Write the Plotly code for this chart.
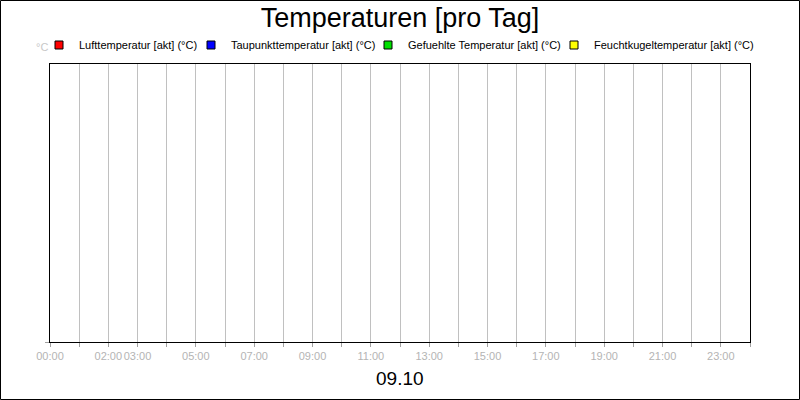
"""
Temperaturen [pro Tag] - empty daily temperature chart.
"""

import plotly.graph_objects as go

# Data (the day has no measurements, so all series are empty)
hours = [0, 1, 2, 3, 4, 5, 6, 7, 8, 9, 10, 11, 12,
         13, 14, 15, 16, 17, 18, 19, 20, 21, 22, 23, 24]
hour_labels = ["00:00", "", "02:00", "03:00", "", "05:00", "", "07:00", "", "09:00",
               "", "11:00", "", "13:00", "", "15:00", "", "17:00", "", "19:00",
               "", "21:00", "", "23:00", ""]
series_names = [
    "Lufttemperatur [akt] (°C)",
    "Taupunkttemperatur [akt] (°C)",
    "Gefuehlte Temperatur [akt] (°C)",
    "Feuchtkugeltemperatur [akt] (°C)",
]
series_colors = ["#ff0000", "#0000ff", "#00e000", "#ffff00"]
series_values = [[None], [None], [None], [None]]
series_times = [[None], [None], [None], [None]]
day_label = "09.10"
unit_label = "°C"

FONT = "Liberation Sans, Arial, sans-serif"
W, H = 800, 400
ML, MR, MT, MB = 50, 50, 64, 58
PW, PH = W - ML - MR, H - MT - MB


def px_x(px):
    return (px - ML) / PW


def px_y(py):
    return (H - MB - py) / PH


fig = go.Figure()

# legend x-positions (pixel where each legend box starts)
legend_left = [39, 191, 368, 554]

for i, name in enumerate(series_names):
    key = "legend" if i == 0 else f"legend{i + 1}"
    fig.add_trace(go.Scatter(
        x=series_times[i],
        y=series_values[i],
        mode="markers",
        name=name,
        legend=key,
        marker=dict(symbol="square", size=8, color=series_colors[i],
                    line=dict(color="black", width=1)),
    ))

legends = {}
for i, lx in enumerate(legend_left):
    key = "legend" if i == 0 else f"legend{i + 1}"
    legends[key] = dict(
        x=px_x(lx), xanchor="left",
        y=px_y(45), yanchor="middle",
        orientation="h",
        bgcolor="rgba(0,0,0,0)",
        font=dict(family=FONT, size=11, color="black"),
    )

fig.update_layout(
    width=W, height=H,
    margin=dict(l=ML, r=MR, t=MT, b=MB, pad=0),
    paper_bgcolor="white",
    plot_bgcolor="white",
    title=dict(text="Temperaturen [pro Tag]", x=0.5, xanchor="center",
               y=1 - 18 / H, yanchor="middle",
               font=dict(family=FONT, size=27, color="black")),
    showlegend=True,
    **legends,
)

fig.update_xaxes(
    range=[0, 24],
    tickvals=hours, ticktext=hour_labels,
    tickangle=0,
    showgrid=True, gridcolor="#c0c0c0", gridwidth=1,
    zeroline=False,
    showline=True, linecolor="black", linewidth=1, mirror=True,
    ticks="outside", ticklen=4, tickcolor="#a0a0a0",
    tickfont=dict(family=FONT, size=11, color="#b4b4b4"),
)
fig.update_yaxes(
    range=[0, 1],
    tickvals=[0], showticklabels=False,
    showgrid=False, zeroline=False,
    showline=True, linecolor="black", linewidth=1, mirror=True,
    ticks="outside", ticklen=4, tickcolor="#a0a0a0",
)

# unit label and day label
fig.add_annotation(text=unit_label, xref="paper", yref="paper",
                   x=px_x(42), y=px_y(47), showarrow=False,
                   xanchor="center", yanchor="middle",
                   font=dict(family=FONT, size=11, color="#c8c8c8"))
fig.add_annotation(text=day_label, xref="paper", yref="paper",
                   x=0.5, y=px_y(378), showarrow=False,
                   xanchor="center", yanchor="middle",
                   font=dict(family=FONT, size=19, color="black"))

# outer frame around the image
fig.add_shape(type="rect", xref="paper", yref="paper",
              x0=px_x(0.5), x1=px_x(W - 0.5), y0=px_y(H - 0.5), y1=px_y(0.5),
              line=dict(color="black", width=1), layer="above")

fig.write_html("out.html", config={"displayModeBar": False},
               post_script="document.body.style.margin = '0';")
